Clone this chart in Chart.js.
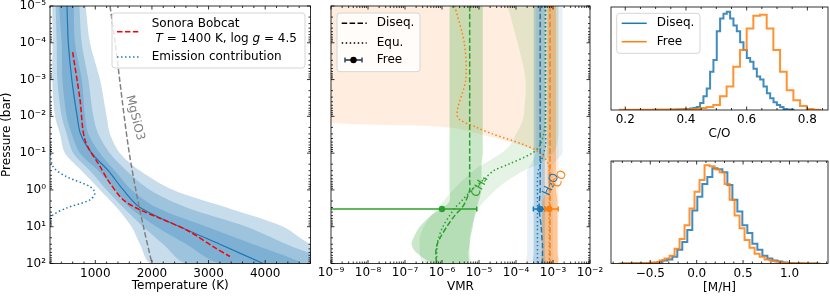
<!DOCTYPE html>
<html>
<head>
<meta charset="utf-8">
<title>Retrieval summary</title>
<script src="https://cdn.jsdelivr.net/npm/chart.js@4.4.1/dist/chart.umd.min.js"></script>
<style>
  body { margin: 0; background: #fff; }
  #figure { position: relative; width: 830px; height: 297px; overflow: hidden; }
  #figure canvas { position: absolute; left: 0; top: 0; }
</style>
</head>
<body>
<div id="figure">
  <canvas id="tpChart" width="830" height="297"></canvas>
  <canvas id="vmrChart" width="830" height="297"></canvas>
  <canvas id="coChart" width="830" height="297"></canvas>
  <canvas id="mhChart" width="830" height="297"></canvas>
</div>
<script>
/* ---- T-P profile (bar, K) ---- */
let tpPressure = [1e-5, 1e-4, 1e-3, 1e-2, 3e-2, 0.1, 0.3, 1, 3, 10, 30, 100];
let tpMedian = [500, 523, 585, 680, 740, 936, 1229, 1494, 1789, 2494, 3200, 3965];
let tp1Lo = [360, 406, 420, 494, 583, 730, 1053, 1347, 1612, 2083, 2612, 3200];
let tp1Hi = [620, 641, 760, 818, 877, 1083, 1347, 1641, 2083, 2965, 3788, 4612];
let tp2Lo = [300, 318, 330, 406, 494, 612, 906, 1200, 1494, 1847, 2200, 2612];
let tp2Hi = [720, 760, 877, 965, 1053, 1259, 1553, 1965, 2612, 3671, 4376, 5140];
let tp3Lo = [240, 247, 240, 288, 376, 465, 760, 1083, 1377, 1641, 1789, 1995];
let tp3Hi = [830, 906, 1083, 1200, 1259, 1435, 1789, 2376, 3318, 4318, 4800, 5670];

let bobcatPressure = [1.8e-4, 3.5e-3, 0.044, 0.23, 0.66, 1.86, 3.47, 5.9, 12.3, 34.7, 64.6];
let bobcatTemp = [600, 730, 818, 1083, 1260, 1494, 1789, 2141, 2613, 3082, 3377];

let condPressure = [1e-5, 1e-4, 1e-3, 1e-2, 0.1, 1, 10, 100];
let condTemp = [1260, 1350, 1430, 1510, 1600, 1715, 1850, 2000];

let emisPressure = [0.05, 0.081, 0.234, 0.437, 0.813, 1.2, 1.86, 3.09, 4.79, 6.61, 10];
let emisTemp = [200, 205, 255, 495, 906, 994, 906, 495, 253, 205, 200];

/* ---- abundances (VMR) ---- */
let midPressure = [1e-5, 1e-4, 1e-3, 1e-2, 2e-2, 3e-2, 6e-2, 0.1, 0.2, 0.3, 0.5, 1, 2, 3, 5, 10, 20, 30, 50, 100];

let ch4Diseq   = [5.6e-6, 5.6e-6, 5.6e-6, 5.6e-6, 5.6e-6, 5.6e-6, 5.6e-6, 5.6e-6, 5.6e-6, 5.6e-6, 5.6e-6, 5.6e-6, 4.4e-6, 3.5e-6, 2.2e-6, 1.35e-6, 8.9e-7, 7.4e-7, 6.8e-7, 7.1e-7];
let ch4DiseqLo = [1.6e-6, 1.6e-6, 1.6e-6, 1.6e-6, 1.6e-6, 1.6e-6, 1.6e-6, 1.6e-6, 1.6e-6, 1.6e-6, 1.6e-6, 1.6e-6, 1.6e-6, 1.1e-6, 5e-7, 2.5e-7, 1.7e-7, 1.5e-7, 2e-7, 6.3e-7];
let ch4DiseqHi = [1.26e-5, 1.26e-5, 1.26e-5, 1.26e-5, 1.26e-5, 1.26e-5, 1.26e-5, 1.26e-5, 1.17e-5, 1.17e-5, 1.17e-5, 1.17e-5, 9.8e-6, 8.7e-6, 7.6e-6, 6.8e-6, 5.9e-6, 5.6e-6, 5.2e-6, 4.9e-6];
let ch4Equ     = [6.2e-4, 6.2e-4, 6.2e-4, 6.2e-4, 6e-4, 5.6e-4, 4.5e-4, 2.75e-4, 6.3e-5, 2.5e-5, 1.4e-5, 6.3e-6, 3.4e-6, 2.3e-6, 1.6e-6, 1.05e-6, 8.1e-7, 7.4e-7, 7.2e-7, 7.2e-7];
let ch4EquLo   = [5.9e-5, 1.1e-4, 1.8e-4, 1.6e-4, 1.26e-4, 1e-4, 7e-5, 4e-5, 1.26e-5, 7e-6, 4e-6, 2e-6, 1.1e-6, 8e-7, 5e-7, 3.2e-7, 2.5e-7, 2.5e-7, 2.5e-7, 3.2e-7];
let ch4EquHi   = [1.4e-3, 1.4e-3, 1.4e-3, 1.4e-3, 1.4e-3, 1.4e-3, 1.26e-3, 1e-3, 4e-4, 1.6e-4, 7e-5, 2.8e-5, 1.4e-5, 1e-5, 7.9e-6, 6.3e-6, 5.6e-6, 5.6e-6, 5.6e-6, 5.6e-6];

let h2oDiseq   = [4.5e-4, 4.5e-4, 4.5e-4, 4.5e-4, 4.5e-4, 4.5e-4, 4.5e-4, 4.5e-4, 4.5e-4, 4.5e-4, 4.5e-4, 4.5e-4, 4.3e-4, 4.2e-4, 4.4e-4, 4.8e-4, 5e-4, 5.2e-4, 5.2e-4, 5.2e-4];
let h2oDiseqLo = [3e-4, 3e-4, 3e-4, 3e-4, 3e-4, 3e-4, 3e-4, 3e-4, 3e-4, 3e-4, 3e-4, 3e-4, 3e-4, 3e-4, 3e-4, 3e-4, 3e-4, 3e-4, 3e-4, 3e-4];
let h2oDiseqHi = [6e-4, 6e-4, 6e-4, 6e-4, 6e-4, 6e-4, 6e-4, 6e-4, 6e-4, 6e-4, 6e-4, 6e-4, 6e-4, 6e-4, 6e-4, 6e-4, 6e-4, 6e-4, 6e-4, 6e-4];
let h2oEqu     = [6.3e-4, 6.3e-4, 6.3e-4, 6.3e-4, 6.3e-4, 6.3e-4, 6.3e-4, 5.6e-4, 4.5e-4, 4e-4, 3.8e-4, 3.8e-4, 3.8e-4, 3.8e-4, 3.8e-4, 3.8e-4, 3.8e-4, 3.8e-4, 3.8e-4, 3.8e-4];
let h2oEquLo   = [3.5e-4, 3.5e-4, 3.5e-4, 3.5e-4, 3.5e-4, 3.5e-4, 3.5e-4, 3.5e-4, 2.5e-4, 2e-4, 2e-4, 2e-4, 2e-4, 2e-4, 2e-4, 2e-4, 2e-4, 2e-4, 2e-4, 2e-4];
let h2oEquHi   = [1.8e-3, 1.8e-3, 1.8e-3, 1.8e-3, 1.8e-3, 1.8e-3, 1.8e-3, 1.8e-3, 1e-3, 1e-3, 1e-3, 1e-3, 1e-3, 1e-3, 1e-3, 1e-3, 1e-3, 1e-3, 1e-3, 1e-3];

let coDiseq    = [8.3e-4, 8.3e-4, 8.3e-4, 8.3e-4, 8.3e-4, 8.3e-4, 8.3e-4, 8.3e-4, 8.3e-4, 8.3e-4, 8.3e-4, 8.3e-4, 8.3e-4, 8.3e-4, 8.3e-4, 8.3e-4, 8.3e-4, 8.3e-4, 8.3e-4, 8.3e-4];
let coDiseqLo  = [7.1e-4, 7.1e-4, 7.1e-4, 7.1e-4, 7.1e-4, 7.1e-4, 7.1e-4, 7.1e-4, 7.1e-4, 7.1e-4, 7.1e-4, 7.1e-4, 5.1e-4, 5.1e-4, 5.1e-4, 5.1e-4, 5.1e-4, 5.1e-4, 5.1e-4, 5.1e-4];
let coDiseqHi  = [1.2e-3, 1.2e-3, 1.2e-3, 1.2e-3, 1.2e-3, 1.2e-3, 1.2e-3, 1.2e-3, 1.2e-3, 1.2e-3, 1.2e-3, 1.2e-3, 1.32e-3, 1.32e-3, 1.32e-3, 1.32e-3, 1.32e-3, 1.32e-3, 1.32e-3, 1.32e-3];
let coEqu      = [2.2e-6, 4e-6, 4.4e-6, 2.6e-6, 8.7e-6, 2.3e-5, 1.7e-4, 4.6e-4, 7.6e-4, 7.9e-4, 7.9e-4, 7.9e-4, 7.9e-4, 7.9e-4, 7.9e-4, 7.9e-4, 7.9e-4, 7.9e-4, 7.9e-4, 7.9e-4];
let coEquLo    = [1e-10, 1e-10, 1e-10, 1e-10, 1.6e-6, 1e-5, 1.26e-4, 4e-4, 5e-4, 5e-4, 5e-4, 5e-4, 5e-4, 5e-4, 5e-4, 5e-4, 5e-4, 5e-4, 5e-4, 5e-4];
let coEquHi    = [1.4e-3, 1.4e-3, 1.4e-3, 1.4e-3, 1.4e-3, 1.4e-3, 1.4e-3, 1.4e-3, 1.4e-3, 1.4e-3, 1.4e-3, 1.4e-3, 1.4e-3, 1.4e-3, 1.4e-3, 1.4e-3, 1.4e-3, 1.4e-3, 1.4e-3, 1.4e-3];

/* free retrieval, one point per molecule: CH4, H2O, CO */
let freePressure = [3.3, 3.3, 3.3];
let freeVmr = [1.0e-6, 4.5e-4, 7.9e-4];
let freeLo = [1e-10, 2.95e-4, 6e-4];
let freeHi = [8.7e-6, 6e-4, 1.38e-3];

/* ---- posteriors ---- */
let coBinsDiseq = [0.364, 0.375, 0.386, 0.397, 0.408, 0.419, 0.430, 0.441, 0.452, 0.463, 0.474, 0.485, 0.496, 0.507, 0.518, 0.529, 0.540, 0.551, 0.562, 0.573, 0.584, 0.595, 0.606, 0.617, 0.628, 0.639, 0.650, 0.661, 0.672, 0.683, 0.694, 0.705, 0.716, 0.727, 0.738, 0.749];
let coCountDiseq = [0.3, 0.4, 0.5, 0.8, 1, 1.5, 2, 3, 7, 14, 22, 39, 51, 80, 93, 98, 100, 93, 86, 80, 69, 61, 53, 49, 42, 34, 31, 24, 17, 12, 8, 5, 3, 1, 0.5, 0.3];
let coBinsFree = [0.193, 0.215, 0.237, 0.259, 0.281, 0.303, 0.325, 0.347, 0.369, 0.391, 0.413, 0.435, 0.457, 0.479, 0.501, 0.523, 0.545, 0.567, 0.589, 0.611, 0.633, 0.655, 0.677, 0.699, 0.721, 0.743, 0.765, 0.787, 0.809, 0.831];
let coCountFree = [0.2, 0.2, 0.3, 0.3, 0.3, 0.4, 0.4, 0.5, 0.6, 0.7, 0.8, 1, 2, 3, 5, 14, 24, 44, 61, 83, 96, 97, 83, 61, 39, 20, 10, 4, 1, 0.3];

let mhBinsDiseq = [-0.774, -0.720, -0.666, -0.612, -0.559, -0.505, -0.451, -0.397, -0.343, -0.289, -0.235, -0.182, -0.128, -0.074, -0.020, 0.034, 0.088, 0.142, 0.196, 0.250, 0.304, 0.358, 0.412, 0.465, 0.519, 0.573, 0.627, 0.681, 0.735, 0.789, 0.843, 0.897, 0.950, 1.004, 1.058, 1.112, 1.166, 1.220, 1.274];
let mhCountDiseq = [0.1, 0.1, 0.2, 0.2, 0.3, 0.4, 0.5, 1.4, 3, 4, 7, 14, 22, 34, 54, 68, 81, 88, 97, 96, 93, 80, 65, 53, 39, 31, 20, 14, 8, 5, 3, 2, 1, 0.5, 0.3, 0.2, 0.1, 0.1, 0.1];
let mhBinsFree = [-0.804, -0.750, -0.696, -0.642, -0.589, -0.535, -0.481, -0.427, -0.373, -0.319, -0.265, -0.211, -0.157, -0.104, -0.050, 0.004, 0.058, 0.112, 0.166, 0.220, 0.274, 0.328, 0.382, 0.435, 0.489, 0.543, 0.597, 0.651, 0.705, 0.759, 0.813, 0.867, 0.921, 0.975, 1.029, 1.083, 1.137, 1.191, 1.245, 1.299];
let mhCountFree = [0.1, 0.1, 0.2, 0.2, 0.3, 0.4, 1, 1.4, 3, 5, 8, 15, 25, 39, 56, 73, 85, 100, 99, 96, 93, 81, 65, 49, 36, 24, 16, 10, 7, 4, 3, 2, 1, 0.5, 0.3, 0.2, 0.2, 0.1, 0.1, 0.1];

let BLUE = '#1f77b4', ORANGE = '#ff7f0e', GREEN = '#2ca02c', RED = '#ff0000', GRAY = '#808080';
let DASH = [5.5, 2.4], DOT = [1.5, 2.5];
let FONT = "'DejaVu Sans', sans-serif";

Chart.defaults.font.family = FONT;
Chart.defaults.font.size = 12;
Chart.defaults.color = '#000';

function pts(xs, ps) {
  return xs.map((x, i) => ({ x: x, y: ps[i] }));
}

function lineSet(xs, ps, color, dash, width) {
  return {
    data: pts(xs, ps), showLine: true, borderColor: color, borderDash: dash || [],
    borderWidth: width || 1.5, pointRadius: 0, fill: false, tension: 0.3
  };
}

// closed polygon lo -> hi(reversed), filled with the 'shape' mode
function bandSet(lo, hi, ps, color) {
  return {
    data: pts(lo, ps).concat(pts(hi, ps).reverse()), showLine: true,
    borderColor: 'transparent', borderWidth: 1, backgroundColor: color,
    pointRadius: 0, fill: 'shape', tension: 0.3
  };
}

// histogram outline from bin centres
function stepSet(centres, counts, color) {
  let edges = centres.map((c, i) => i == 0 ? c - (centres[1] - c) / 2 : (centres[i - 1] + c) / 2);
  let n = centres.length;
  let last = centres[n - 1] + (centres[n - 1] - centres[n - 2]) / 2;
  let data = [{ x: edges[0], y: 0 }];
  counts.forEach((c, i) => data.push({ x: i < n - 1 ? edges[i + 1] : last, y: c }));
  data.push({ x: last, y: 0 });
  return { data: data, showLine: true, stepped: 'after', borderColor: color, borderWidth: 2, pointRadius: 0, fill: false };
}

let SUP = { '-': '⁻', '0': '⁰', '1': '¹', '2': '²', '3': '³', '4': '⁴', '5': '⁵', '6': '⁶', '7': '⁷', '8': '⁸', '9': '⁹' };
function pow10Label(v) {
  let e = Math.log10(v);
  if (Math.abs(e - Math.round(e)) > 1e-6) return '';
  return '10' + String(Math.round(e)).split('').map(c => SUP[c]).join('');
}
function stepLabel(step, digits) {
  return function (v) {
    let r = v / step;
    if (Math.abs(r - Math.round(r)) > 1e-6) return '';
    return (Math.round(r) * step).toFixed(digits).replace('-', '−');
  };
}

// inward ticks on all four sides + the frame
let frame = {
  id: 'frame',
  afterDatasetsDraw(chart) {
    let ctx = chart.ctx, a = chart.chartArea;
    ctx.save();
    ctx.strokeStyle = '#000';
    ctx.lineWidth = 0.8;
    Object.values(chart.scales).forEach(s => {
      if (!s.options.display) return;
      let horiz = s.isHorizontal();
      s.ticks.forEach(t => {
        if (s.type == 'logarithmic') {
          let m = t.value / Math.pow(10, Math.floor(Math.log10(t.value) + 1e-9));
          if (Math.abs(m - Math.round(m)) > 1e-6) return;
        }
        let p = s.getPixelForValue(t.value);
        if (horiz ? (p < a.left - 0.5 || p > a.right + 0.5) : (p < a.top - 0.5 || p > a.bottom + 0.5)) return;
        let len = t.label ? 3.5 : 2;
        ctx.beginPath();
        if (horiz) {
          ctx.moveTo(p, a.bottom); ctx.lineTo(p, a.bottom - len);
          ctx.moveTo(p, a.top); ctx.lineTo(p, a.top + len);
        } else {
          ctx.moveTo(a.left, p); ctx.lineTo(a.left + len, p);
          ctx.moveTo(a.right, p); ctx.lineTo(a.right - len, p);
        }
        ctx.stroke();
      });
    });
    ctx.strokeRect(a.left, a.top, a.right - a.left, a.bottom - a.top);
    ctx.restore();
  }
};

function legendBox(ctx, x, y, w, h) {
  ctx.beginPath();
  ctx.roundRect(x, y, w, h, 3);
  ctx.fillStyle = 'rgba(255,255,255,0.8)';
  ctx.fill();
  ctx.strokeStyle = '#d5d5d5';
  ctx.lineWidth = 1;
  ctx.stroke();
}
function sample(ctx, x1, x2, y, color, dash, width) {
  ctx.beginPath();
  ctx.setLineDash(dash || []);
  ctx.strokeStyle = color;
  ctx.lineWidth = width || 1.5;
  ctx.moveTo(x1, y); ctx.lineTo(x2, y);
  ctx.stroke();
  ctx.setLineDash([]);
}
function txt(ctx, s, x, y, font, color) {
  ctx.font = font || ('12px ' + FONT);
  ctx.fillStyle = color || '#000';
  ctx.textBaseline = 'middle';
  ctx.textAlign = 'left';
  ctx.fillText(s, x, y);
  return ctx.measureText(s).width;
}
function rotText(chart, s, xv, yv, deg, color) {
  let ctx = chart.ctx;
  let x = chart.scales.x.getPixelForValue(xv), y = chart.scales.y.getPixelForValue(yv);
  ctx.save();
  ctx.translate(x, y);
  ctx.rotate(deg * Math.PI / 180);
  ctx.font = '12px ' + FONT;
  ctx.fillStyle = color;
  ctx.textAlign = 'center';
  ctx.textBaseline = 'middle';
  ctx.fillText(s, 0, 0);
  ctx.restore();
}

function fixX(h) { return s => { s.height = h; s.paddingLeft = 0; s.paddingRight = 0; }; }
function fixY(w) { return s => { s.width = w; s.paddingTop = 0; s.paddingBottom = 0; }; }

function baseOptions(padding, scales) {
  return {
    responsive: false, animation: false, events: [],
    layout: { padding: padding },
    plugins: { legend: { display: false }, tooltip: { enabled: false } },
    scales: scales
  };
}

/* ---- panel 1: temperature profile ---- */
let tpLayers = [
  bandSet(tp3Lo, tp3Hi, tpPressure, 'rgba(31,119,180,0.25)'),
  bandSet(tp2Lo, tp2Hi, tpPressure, 'rgba(31,119,180,0.25)'),
  bandSet(tp1Lo, tp1Hi, tpPressure, 'rgba(31,119,180,0.25)'),
  lineSet(tpMedian, tpPressure, BLUE, [], 1.2),
  lineSet(condTemp, condPressure, GRAY, DASH, 1.5),
  lineSet(bobcatTemp, bobcatPressure, RED, DASH, 1.5),
  lineSet(emisTemp, emisPressure, BLUE, DOT, 1.5)
];

new Chart(document.getElementById('tpChart'), {
  type: 'scatter',
  data: { datasets: tpLayers.slice().reverse() },
  options: baseOptions({ left: 0, top: 6, right: 830 - 310.5, bottom: 0 }, {
    x: {
      type: 'linear', min: 200, max: 4800,
      grid: { display: false, drawTicks: false }, border: { display: false },
      ticks: { stepSize: 200, includeBounds: false, autoSkip: false, maxRotation: 0, minRotation: 0, padding: 3, callback: stepLabel(1000, 0) },
      title: { display: true, text: 'Temperature (K)', padding: { top: 0, bottom: 3.8 } },
      afterFit: fixX(297 - 263.5)
    },
    y: {
      type: 'logarithmic', reverse: true, min: 1e-5, max: 100,
      grid: { display: false, drawTicks: false }, border: { display: false },
      ticks: { autoSkip: false, padding: 4, callback: pow10Label },
      title: { display: true, text: 'Pressure (bar)', padding: { top: 0, bottom: 0 } },
      afterFit: fixY(50)
    }
  }),
  plugins: [frame, {
    id: 'tpText',
    afterDraw(chart) {
      let ctx = chart.ctx;
      rotText(chart, 'MgSiO3', 1700, 0.011, 76, GRAY);
      ctx.save();
      legendBox(ctx, 112, 13, 193, 55);
      sample(ctx, 117, 140, 31.7, RED, DASH);
      txt(ctx, 'Sonora Bobcat', 151.7, 24);
      let x = 151.7;
      x += txt(ctx, ' ', x, 39);
      x += txt(ctx, 'T', x, 39, 'italic 12px ' + FONT);
      x += txt(ctx, ' = 1400 K, log ', x, 39);
      x += txt(ctx, 'g', x, 39, 'italic 12px ' + FONT);
      txt(ctx, ' = 4.5', x, 39);
      sample(ctx, 117, 140, 57, BLUE, DOT);
      txt(ctx, 'Emission contribution', 151.7, 57);
      ctx.restore();
    }
  }]
});

/* ---- panel 2: abundances ---- */
function errorBar(i, color) {
  return {
    data: [{ x: freeLo[i], y: freePressure[i] }, { x: freeHi[i], y: freePressure[i] }],
    showLine: true, borderColor: color, borderWidth: 1.5,
    pointStyle: 'line', pointRotation: 90, pointRadius: 2.5,
    pointBorderColor: color, pointBorderWidth: 1.5, fill: false
  };
}

let vmrLayers = [
  bandSet(coEquLo, coEquHi, midPressure, 'rgba(255,127,14,0.13)'),
  bandSet(ch4EquLo, ch4EquHi, midPressure, 'rgba(44,160,44,0.12)'),
  bandSet(h2oEquLo, h2oEquHi, midPressure, 'rgba(31,119,180,0.10)'),
  bandSet(ch4DiseqLo, ch4DiseqHi, midPressure, 'rgba(44,160,44,0.25)'),
  bandSet(h2oDiseqLo, h2oDiseqHi, midPressure, 'rgba(31,119,180,0.25)'),
  bandSet(coDiseqLo, coDiseqHi, midPressure, 'rgba(255,127,14,0.35)'),
  lineSet(ch4Equ, midPressure, GREEN, DOT),
  lineSet(h2oEqu, midPressure, BLUE, DOT),
  lineSet(coEqu, midPressure, ORANGE, DOT),
  lineSet(ch4Diseq, midPressure, GREEN, DASH),
  lineSet(h2oDiseq, midPressure, BLUE, DASH),
  lineSet(coDiseq, midPressure, ORANGE, DASH),
  errorBar(0, GREEN), errorBar(1, BLUE), errorBar(2, ORANGE),
  {
    data: pts(freeVmr, freePressure), pointRadius: 3.2, pointBorderWidth: 0,
    pointBackgroundColor: [GREEN, BLUE, ORANGE], showLine: false
  }
];

new Chart(document.getElementById('vmrChart'), {
  type: 'scatter',
  data: { datasets: vmrLayers.slice().reverse() },
  options: baseOptions({ left: 0, top: 6, right: 830 - 590, bottom: 0 }, {
    x: {
      type: 'logarithmic', min: 1e-9, max: 1e-2,
      grid: { display: false, drawTicks: false }, border: { display: false },
      ticks: { autoSkip: false, maxRotation: 0, minRotation: 0, padding: 2, callback: pow10Label },
      title: { display: true, text: 'VMR', padding: { top: 0, bottom: 3 } },
      afterFit: fixX(297 - 263.5)
    },
    y: {
      type: 'logarithmic', reverse: true, min: 1e-5, max: 100,
      grid: { display: false, drawTicks: false }, border: { display: false },
      ticks: { autoSkip: false, color: 'rgba(0,0,0,0)', callback: pow10Label },
      afterFit: fixY(331)
    }
  }),
  plugins: [frame, {
    id: 'vmrText',
    afterDraw(chart) {
      let ctx = chart.ctx;
      rotText(chart, 'CH₄', 1.05e-5, 0.82, -60, GREEN);
      rotText(chart, 'H₂O', 8.9e-4, 0.72, -65, BLUE);
      rotText(chart, 'CO', 1.55e-3, 0.51, -62, ORANGE);
      ctx.save();
      legendBox(ctx, 337, 13, 83, 58.7);
      sample(ctx, 341.7, 366.7, 23.3, '#000', DASH);
      txt(ctx, 'Diseq.', 376.7, 23.3);
      sample(ctx, 341.7, 366.7, 43, '#000', DOT);
      txt(ctx, 'Equ.', 376.7, 43);
      sample(ctx, 345, 362, 60, '#1a2a3a', [], 1.5);
      sample(ctx, 345, 345, 60, '#1a2a3a');
      ctx.beginPath();
      ctx.strokeStyle = '#2a4a6a';
      ctx.lineWidth = 1.5;
      ctx.moveTo(345, 57.5); ctx.lineTo(345, 62.5);
      ctx.moveTo(362, 57.5); ctx.lineTo(362, 62.5);
      ctx.stroke();
      ctx.beginPath();
      ctx.fillStyle = '#000';
      ctx.arc(353.5, 60, 3.2, 0, Math.PI * 2);
      ctx.fill();
      txt(ctx, 'Free', 376.7, 60);
      ctx.restore();
    }
  }]
});

/* ---- panel 3/4: C/O and [M/H] posteriors ---- */
function histChart(id, area, xmin, xmax, minor, major, title, titlePad, centresA, countsA, centresB, countsB, ymax, legend) {
  return new Chart(document.getElementById(id), {
    type: 'scatter',
    data: {
      datasets: [
        stepSet(centresB, countsB, 'rgba(255,127,14,0.85)'),
        stepSet(centresA, countsA, 'rgba(31,119,180,0.85)')
      ]
    },
    options: baseOptions({ left: area.l, top: area.t, right: 830 - area.r, bottom: 0 }, {
      x: {
        type: 'linear', min: xmin, max: xmax,
        grid: { display: false, drawTicks: false }, border: { display: false },
        ticks: { stepSize: minor, includeBounds: false, autoSkip: false, maxRotation: 0, minRotation: 0, padding: 3, callback: stepLabel(major, 1) },
        title: { display: true, text: title, padding: { top: 0, bottom: titlePad } },
        afterFit: fixX(297 - area.b)
      },
      y: { type: 'linear', display: false, min: 0, max: ymax }
    }),
    plugins: [frame, {
      id: id + 'Legend',
      afterDraw(chart) {
        if (!legend) return;
        let ctx = chart.ctx;
        ctx.save();
        legendBox(ctx, 616.7, 13.3, 83.3, 40);
        sample(ctx, 621.7, 646.7, 23.3, BLUE, [], 1.5);
        txt(ctx, 'Diseq.', 656.7, 23.3);
        sample(ctx, 621.7, 646.7, 41.7, ORANGE, [], 1.5);
        txt(ctx, 'Free', 656.7, 41.7);
        ctx.restore();
      }
    }]
  });
}

histChart('coChart', { l: 611, t: 7, r: 828, b: 110 }, 0.153, 0.868, 0.05, 0.2, 'C/O', 155.8,
  coBinsDiseq, coCountDiseq, coBinsFree, coCountFree, 104.8, true);
histChart('mhChart', { l: 611, t: 161, r: 828, b: 263.5 }, -0.923, 1.415, 0.1, 0.5, '[M/H]', 2.3,
  mhBinsDiseq, mhCountDiseq, mhBinsFree, mhCountFree, 104.4, false);
</script>
</body>
</html>
